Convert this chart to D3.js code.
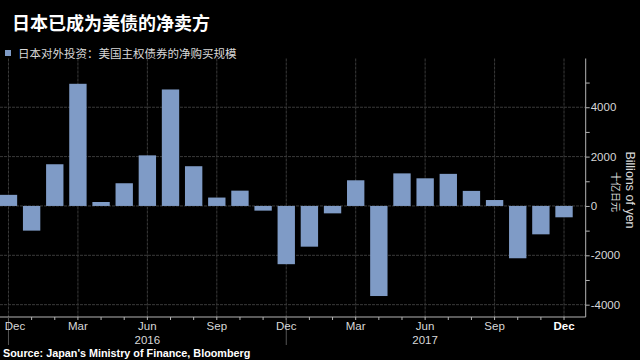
<!DOCTYPE html>
<html>
<head>
<meta charset="utf-8">
<script src="https://cdn.jsdelivr.net/npm/d3@7"></script>
<style>
  html, body { margin: 0; padding: 0; background: #000; }
  svg { display: block; }
</style>
</head>
<body>
<svg id="chart" width="640" height="360"></svg>
<script>
// ---- data ----
const months = [
  "2015-12","2016-01","2016-02","2016-03","2016-04","2016-05","2016-06",
  "2016-07","2016-08","2016-09","2016-10","2016-11","2016-12",
  "2017-01","2017-02","2017-03","2017-04","2017-05","2017-06",
  "2017-07","2017-08","2017-09","2017-10","2017-11","2017-12"
];
const netPurchases = [
  450, -1000, 1690, 4950, 160, 920, 2050,
  4720, 1610, 340, 620, -190, -2360,
  -1650, -300, 1040, -3650, 1320, 1120,
  1300, 610, 240, -2120, -1150, -460
];
const quarterTicks = ["2015-12","2016-03","2016-06","2016-09","2016-12","2017-03","2017-06","2017-09","2017-12"];
const quarterLabels = ["Dec","Mar","Jun","Sep","Dec","Mar","Jun","Sep","Dec"];
const yearTicks = ["2016-06","2017-06"];
const yearLabels = ["2016","2017"];
const yearSeparators = ["2015-12","2016-12"];
const yMajorTicks = [-4000,-2000,0,2000,4000];
const yAllTicks = [-4000,-3000,-2000,-1000,0,1000,2000,3000,4000,5000];

const title = "日本已成为美债的净卖方";
const legendLabel = "日本对外投资：美国主权债券的净购买规模";
const unitEn = "Billions of yen";
const unitZh = "十亿日元";
const source = "Source: Japan's Ministry of Finance, Bloomberg";

// ---- layout ----
const svg = d3.select("#chart");
const plotTop = 58.5, plotBottom = 317, plotLeft = 0, plotRight = 585.7;
const barColor = "#7f9bc6";
const gridColor = "#3a3a3a";
const axisColor = "#b4b4b4";
const textColor = "#d8d8d8";
const cjk = "'Noto Sans CJK SC', 'Noto Sans', sans-serif";
const latin = "'Liberation Sans', Arial, sans-serif";

const x = d3.scaleBand()
  .domain(months)
  .range([-3.1, 575.6])
  .paddingInner(0.25)
  .paddingOuter(0.125);
const xc = m => x(m) + x.bandwidth() / 2;

const y = d3.scaleLinear()
  .domain([-4500, 5975])
  .range([plotBottom, plotTop]);

// background
svg.append("rect").attr("width", 640).attr("height", 360).attr("fill", "#000");

// gridlines
const grid = svg.append("g");
grid.selectAll("line.h").data(yMajorTicks).join("line")
  .attr("x1", plotLeft).attr("x2", plotRight)
  .attr("y1", d => y(d)).attr("y2", d => y(d))
  .attr("stroke", gridColor).attr("stroke-width", 1)
  .attr("stroke-dasharray", "3,1");
grid.selectAll("line.v").data(quarterTicks).join("line")
  .attr("x1", d => xc(d)).attr("x2", d => xc(d))
  .attr("y1", plotTop).attr("y2", plotBottom)
  .attr("stroke", gridColor).attr("stroke-width", 1)
  .attr("stroke-dasharray", "3,1");

// bars
svg.append("g").selectAll("rect").data(months).join("rect")
  .attr("x", d => x(d))
  .attr("width", x.bandwidth())
  .attr("y", (d, i) => y(Math.max(0, netPurchases[i])))
  .attr("height", (d, i) => Math.abs(y(netPurchases[i]) - y(0)))
  .attr("fill", barColor);

// right axis
const yAxis = d3.axisRight(y)
  .tickValues(yAllTicks)
  .tickSize(4)
  .tickPadding(1)
  .tickFormat(d => yMajorTicks.includes(d) ? d : "");
const ya = svg.append("g")
  .attr("transform", `translate(${plotRight},0)`)
  .call(yAxis);
ya.select(".domain").attr("stroke", axisColor).attr("d", `M0,${plotTop}V${plotBottom}`);
ya.selectAll(".tick line").attr("stroke", axisColor);
ya.selectAll(".tick text")
  .attr("fill", textColor)
  .attr("font-family", latin)
  .attr("font-size", 11.5);

// bottom axis
const xAxis = d3.axisBottom(x).tickSize(3).tickFormat("");
const xa = svg.append("g")
  .attr("transform", `translate(0,${plotBottom})`)
  .call(xAxis);
xa.select(".domain").attr("stroke", axisColor).attr("d", `M${plotLeft},0H${plotRight}`);
xa.selectAll(".tick line").attr("stroke", axisColor);

// year separators
svg.append("g").selectAll("line").data(yearSeparators).join("line")
  .attr("x1", d => xc(d)).attr("x2", d => xc(d))
  .attr("y1", plotBottom).attr("y2", 345)
  .attr("stroke", "#555").attr("stroke-width", 1);

// quarter labels (first one is nudged inside the frame, as in the original)
svg.append("g").selectAll("text").data(quarterTicks).join("text")
  .attr("x", d => Math.max(xc(d), 15))
  .attr("y", 330)
  .attr("text-anchor", "middle")
  .attr("font-family", latin)
  .attr("font-size", 11.5)
  .attr("font-weight", (d, i) => i === quarterTicks.length - 1 ? "bold" : "normal")
  .attr("fill", (d, i) => i === quarterTicks.length - 1 ? "#ffffff" : textColor)
  .text((d, i) => quarterLabels[i]);

// year labels
svg.append("g").selectAll("text").data(yearTicks).join("text")
  .attr("x", d => xc(d))
  .attr("y", 343.5)
  .attr("text-anchor", "middle")
  .attr("font-family", latin)
  .attr("font-size", 11.5)
  .attr("fill", textColor)
  .text((d, i) => yearLabels[i]);

// unit labels (rotated)
svg.append("text")
  .attr("transform", "translate(626,190) rotate(90)")
  .attr("text-anchor", "middle")
  .attr("font-family", latin)
  .attr("font-size", 12.5)
  .attr("fill", textColor)
  .text(unitEn);
svg.append("text")
  .attr("transform", "translate(611.5,192) rotate(90)")
  .attr("text-anchor", "middle")
  .attr("font-family", cjk)
  .attr("font-size", 10)
  .attr("fill", textColor)
  .text(unitZh);

// title
svg.append("text")
  .attr("x", 12).attr("y", 30)
  .attr("font-family", cjk)
  .attr("font-weight", "bold")
  .attr("font-size", 18)
  .attr("fill", "#ffffff")
  .text(title);

// legend
svg.append("rect")
  .attr("x", 5).attr("y", 50).attr("width", 6).attr("height", 6)
  .attr("fill", barColor);
svg.append("text")
  .attr("x", 18).attr("y", 57.5)
  .attr("font-family", cjk)
  .attr("font-size", 11.5)
  .attr("fill", textColor)
  .text(legendLabel);

// source
svg.append("text")
  .attr("x", 3).attr("y", 356.5)
  .attr("font-family", latin)
  .attr("font-weight", "bold")
  .attr("font-size", 10.8)
  .attr("fill", "#ffffff")
  .text(source);
</script>
</body>
</html>
